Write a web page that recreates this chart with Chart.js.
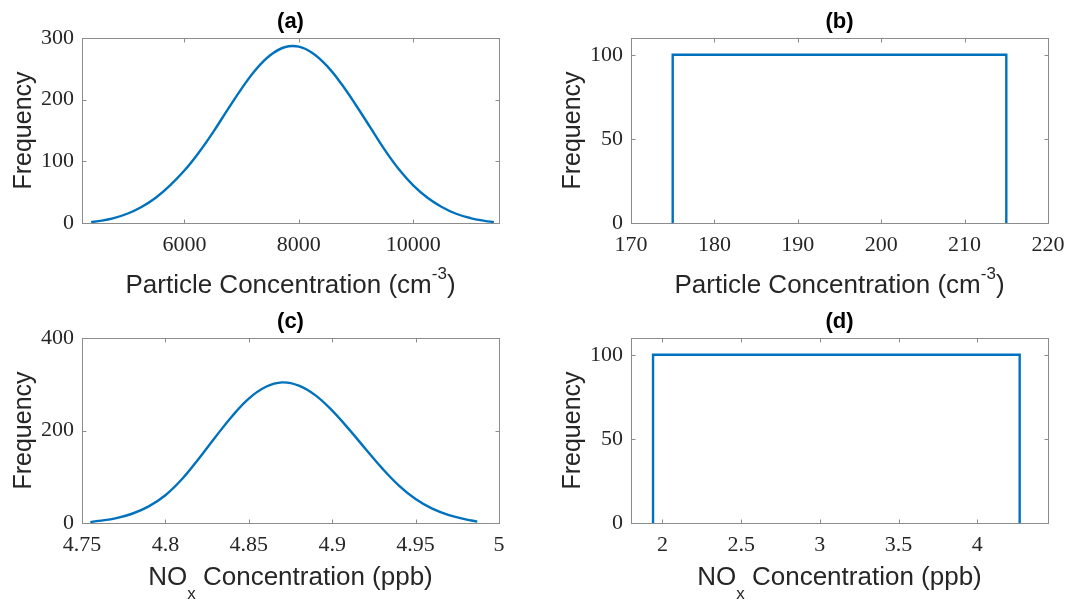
<!DOCTYPE html>
<html>
<head>
<meta charset="utf-8">
<script src="https://cdn.jsdelivr.net/npm/chart.js@4.4.0/dist/chart.umd.min.js"></script>
<style>
  html, body { margin: 0; padding: 0; background: #fff; }
  body { width: 1070px; height: 599px; position: relative; overflow: hidden; }
  canvas { position: absolute; }
</style>
</head>
<body>
<canvas id="chartA" width="535" height="300" style="left:0;top:0"></canvas>
<canvas id="chartB" width="535" height="300" style="left:535px;top:0"></canvas>
<canvas id="chartC" width="535" height="299" style="left:0;top:300px"></canvas>
<canvas id="chartD" width="535" height="299" style="left:535px;top:300px"></canvas>
<script>
// (a) particle concentration
let concA = [4370, 4500, 4750, 5000, 5250, 5500, 5750, 6000, 6250, 6500, 6750, 7000, 7250, 7500, 7750,
             8000, 8250, 8500, 8750, 9000, 9250, 9500, 9750, 10000, 10250, 10500, 10750, 11000, 11250, 11410];
let freqA = [1.5, 3, 7.5, 15, 26, 41, 61, 85, 114, 147, 183, 218, 249, 272, 285,
             286, 275, 254, 225, 191, 155, 119, 87, 61, 41, 26, 15, 8, 3.5, 1.5];
let xTicksA = [6000, 8000, 10000];
let yTicksA = [0, 100, 200, 300];

// (b) particle concentration, uniform
let concB = [175, 175, 215, 215];
let freqB = [0, 100, 100, 0];
let xTicksB = [170, 180, 190, 200, 210, 220];
let yTicksB = [0, 50, 100];

// (c) NOx concentration
let noxC = [4.755, 4.76, 4.77, 4.78, 4.79, 4.80, 4.81, 4.82, 4.83, 4.84, 4.85, 4.86, 4.87,
            4.88, 4.89, 4.90, 4.91, 4.92, 4.93, 4.94, 4.95, 4.96, 4.97, 4.98, 4.987];
let freqC = [2, 4.5, 10, 20, 36, 60, 95, 139, 186, 231, 269, 294, 304,
             297, 276, 243, 203, 160, 118, 81, 52, 31, 17, 8, 3];
let xTicksC = [4.75, 4.8, 4.85, 4.9, 4.95, 5];
let yTicksC = [0, 200, 400];

// (d) NOx concentration, uniform
let noxD = [1.94, 1.94, 4.27, 4.27];
let freqD = [0, 100, 100, 0];
let xTicksD = [2, 2.5, 3, 3.5, 4];
let yTicksD = [0, 50, 100];

const lineBlue = '#0072BD';
const axisGray = '#8c8c8c';
const textDark = '#262626';
const tickFont = { family: "'Liberation Serif', 'DejaVu Serif', serif", size: 22 };
const labelFamily = "'Liberation Sans', Arial, sans-serif";

// box, inward ticks on all sides, title and axis labels like a matlab axes
const matlabAxes = {
  id: 'matlabAxes',
  beforeDatasetsDraw(chart) {
    const { ctx, chartArea: a, scales } = chart;
    const l = Math.round(a.left) + 0.5, r = Math.round(a.right) + 0.5;
    const t = Math.round(a.top) + 0.5, b = Math.round(a.bottom) + 0.5;
    ctx.save();
    ctx.strokeStyle = axisGray;
    ctx.lineWidth = 1;
    ctx.strokeRect(l, t, r - l, b - t);
    ctx.beginPath();
    scales.x.ticks.forEach(tk => {
      const px = Math.round(scales.x.getPixelForValue(tk.value)) + 0.5;
      ctx.moveTo(px, b); ctx.lineTo(px, b - 4);
      ctx.moveTo(px, t); ctx.lineTo(px, t + 4);
    });
    scales.y.ticks.forEach(tk => {
      const py = Math.round(scales.y.getPixelForValue(tk.value)) + 0.5;
      ctx.moveTo(l, py); ctx.lineTo(l + 4, py);
      ctx.moveTo(r, py); ctx.lineTo(r - 4, py);
    });
    ctx.stroke();
    ctx.restore();
  },
  afterDraw(chart, args, opts) {
    const { ctx, chartArea: a } = chart;
    const cx = (a.left + a.right) / 2;
    ctx.save();
    // title
    ctx.fillStyle = '#000';
    ctx.font = 'bold 22px ' + labelFamily;
    ctx.textAlign = 'center';
    ctx.textBaseline = 'alphabetic';
    ctx.fillText(opts.title, cx, a.top - 10);

    // y label
    ctx.fillStyle = textDark;
    ctx.font = '25px ' + labelFamily;
    ctx.translate(a.left - 51, (a.top + a.bottom) / 2);
    ctx.rotate(-Math.PI / 2);
    ctx.fillText('Frequency', 0, 0);
    ctx.setTransform(1, 0, 0, 1, 0, 0);

    // x label with super/subscript pieces
    const small = p => p.sup || p.sub;
    const parts = opts.xLabel.map(p => {
      ctx.font = (small(p) ? '17px ' : '26px ') + labelFamily;
      return { ...p, w: ctx.measureText(p.t).width };
    });
    const total = parts.reduce((s, p) => s + p.w, 0);
    let x = cx - total / 2;
    const base = a.bottom + opts.labelGap;
    ctx.textAlign = 'left';
    parts.forEach(p => {
      ctx.font = (small(p) ? '17px ' : '26px ') + labelFamily;
      const y = p.sup ? base - 14 : p.sub ? base + 14 : base;
      ctx.fillText(p.t, x, y);
      x += p.w;
    });
    ctx.restore();
  }
};

function makePanel(id, xs, ys, xMin, xMax, yMax, xTicks, yTicks, title, xLabel, labelGap, smooth, yWidth, xHeight, padRight) {
  const points = xs.map((v, i) => ({ x: v, y: ys[i] }));
  return new Chart(document.getElementById(id), {
    type: 'line',
    data: {
      datasets: [{
        data: points,
        borderColor: lineBlue,
        borderWidth: 2.4,
        pointRadius: 0,
        fill: false,
        tension: smooth ? 0.4 : 0
      }]
    },
    options: {
      responsive: false,
      animation: false,
      events: [],
      layout: { padding: { top: 38, right: padRight, left: 0, bottom: 0 } },
      plugins: {
        legend: { display: false },
        tooltip: { enabled: false },
        matlabAxes: { title: title, xLabel: xLabel, labelGap: labelGap }
      },
      scales: {
        x: {
          type: 'linear',
          min: xMin,
          max: xMax,
          grid: { display: false, drawTicks: false },
          border: { display: false },
          afterBuildTicks: s => { s.ticks = xTicks.map(v => ({ value: v })); },
          // keep the plot box where it is, edge labels may overhang
          afterFit: s => { s.height = xHeight; s.paddingLeft = 0; s.paddingRight = 0; },
          ticks: {
            autoSkip: false,
            maxRotation: 0,
            padding: 9,
            color: textDark,
            font: tickFont,
            callback: v => String(v)
          }
        },
        y: {
          type: 'linear',
          min: 0,
          max: yMax,
          grid: { display: false, drawTicks: false },
          border: { display: false },
          afterBuildTicks: s => { s.ticks = yTicks.map(v => ({ value: v })); },
          afterFit: s => { s.width = yWidth; s.paddingTop = 0; s.paddingBottom = 0; },
          ticks: {
            padding: 8,
            color: textDark,
            font: tickFont,
            callback: v => String(v)
          }
        }
      }
    },
    plugins: [matlabAxes]
  });
}

let cmLabel = [{ t: 'Particle Concentration (cm' }, { t: '-3', sup: true }, { t: ')' }];
let noxLabel = [{ t: 'NO' }, { t: 'x', sub: true }, { t: ' Concentration (ppb)' }];

makePanel('chartA', concA, freqA, 4210, 11500, 300, xTicksA, yTicksA, '(a)', cmLabel, 70, true, 82, 77, 36);
makePanel('chartB', concB, freqB, 170, 220, 110, xTicksB, yTicksB, '(b)', cmLabel, 70, false, 96, 77, 22);
makePanel('chartC', noxC, freqC, 4.75, 5, 400, xTicksC, yTicksC, '(c)', noxLabel, 62, true, 82, 76, 36);
makePanel('chartD', noxD, freqD, 1.8, 4.45, 110, xTicksD, yTicksD, '(d)', noxLabel, 62, false, 96, 76, 22);
</script>
</body>
</html>
